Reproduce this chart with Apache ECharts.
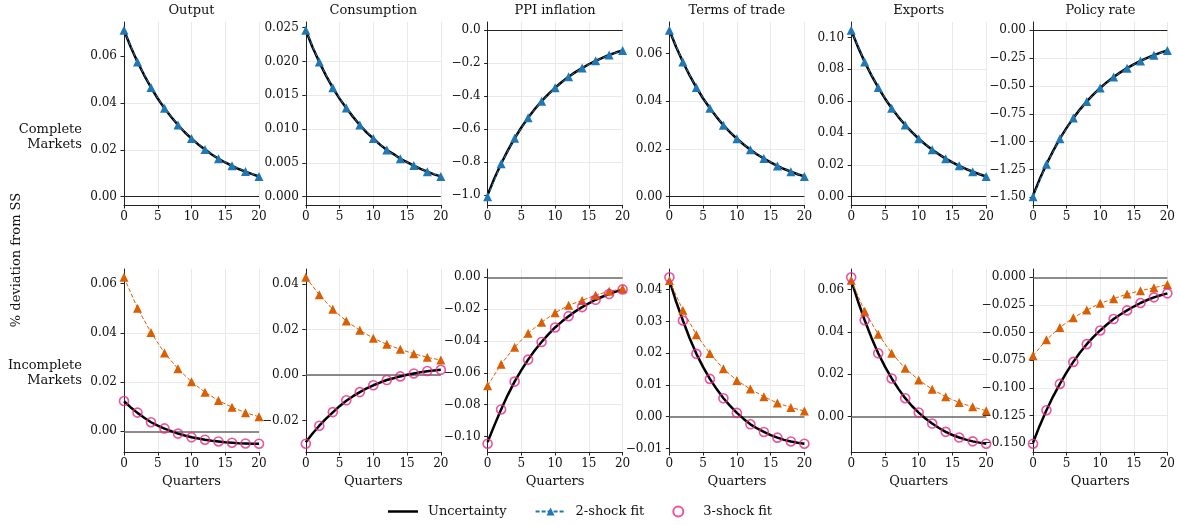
<!DOCTYPE html>
<html>
<head>
<meta charset="utf-8">
<script src="https://cdn.jsdelivr.net/npm/echarts@6/dist/echarts.min.js"></script>
<style>
html,body{margin:0;padding:0;background:#fff;}
#chart{width:1178px;height:525px;}
</style>
</head>
<body>
<div id="chart"></div>
<script>
// ---------- data ----------
const quarters = [0,1,2,3,4,5,6,7,8,9,10,11,12,13,14,15,16,17,18,19,20];
const markerQuarters = [0,2,4,6,8,10,12,14,16,18,20];
const titles = ['Output','Consumption','PPI inflation','Terms of trade','Exports','Policy rate'];
const rowLabels = ['Complete\nMarkets','Incomplete\nMarkets'];
const yAxisTitle = '% deviation from SS';
const xAxisTitle = 'Quarters';
const seriesNames = ['Uncertainty','2-shock fit','3-shock fit'];

// Complete markets (top row): uncertainty path and 2-shock fit
const cmOutputU = [0.0710,0.0639,0.0575,0.0518,0.0466,0.0419,0.0377,0.0340,0.0306,0.0275,0.0248,0.0223,0.0201,0.0180,0.0162,0.0146,0.0132,0.0118,0.0107,0.0096,0.0086];
const cmOutput2 = [0.0710,0.0575,0.0466,0.0377,0.0306,0.0248,0.0201,0.0162,0.0132,0.0107,0.0086];
const cmConsU = [0.0246,0.0221,0.0199,0.0179,0.0161,0.0145,0.0131,0.0118,0.0106,0.0095,0.0086,0.0077,0.0069,0.0063,0.0056,0.0051,0.0046,0.0041,0.0037,0.0033,0.0030];
const cmCons2 = [0.0246,0.0199,0.0161,0.0131,0.0106,0.0086,0.0069,0.0056,0.0046,0.0037,0.0030];
const cmPPIU = [-1.000,-0.900,-0.810,-0.729,-0.656,-0.590,-0.531,-0.478,-0.430,-0.387,-0.349,-0.314,-0.282,-0.254,-0.229,-0.206,-0.185,-0.167,-0.150,-0.135,-0.122];
const cmPPI2 = [-1.010,-0.810,-0.656,-0.531,-0.430,-0.349,-0.282,-0.229,-0.185,-0.150,-0.122];
const cmToTU = [0.0698,0.0628,0.0565,0.0509,0.0458,0.0412,0.0371,0.0334,0.0300,0.0270,0.0243,0.0219,0.0197,0.0177,0.0160,0.0144,0.0129,0.0116,0.0105,0.0094,0.0085];
const cmToT2 = [0.0698,0.0565,0.0458,0.0371,0.0300,0.0243,0.0197,0.0160,0.0129,0.0105,0.0085];
const cmExpU = [0.1045,0.0941,0.0846,0.0762,0.0686,0.0617,0.0555,0.0500,0.0450,0.0405,0.0364,0.0328,0.0295,0.0266,0.0239,0.0215,0.0194,0.0174,0.0157,0.0141,0.0127];
const cmExp2 = [0.1045,0.0846,0.0686,0.0555,0.0450,0.0364,0.0295,0.0239,0.0194,0.0157,0.0127];
const cmRateU = [-1.485,-1.337,-1.203,-1.083,-0.974,-0.877,-0.789,-0.710,-0.639,-0.575,-0.518,-0.466,-0.419,-0.378,-0.340,-0.306,-0.275,-0.248,-0.223,-0.201,-0.181];
const cmRate2 = [-1.495,-1.203,-0.974,-0.789,-0.639,-0.518,-0.419,-0.340,-0.275,-0.223,-0.181];

// Incomplete markets (bottom row): uncertainty, 2-shock fit, 3-shock fit
const imOutputU = [0.0122,0.0097,0.0075,0.0055,0.0037,0.0023,0.0011,0.0001,-0.0009,-0.0017,-0.0024,-0.0029,-0.0034,-0.0038,-0.0041,-0.0044,-0.0046,-0.0048,-0.0049,-0.0050,-0.0050];
const imOutput2 = [0.0625,0.0500,0.0401,0.0318,0.0254,0.0201,0.0159,0.0125,0.0098,0.0076,0.0059];
const imOutput3 = [0.0123,0.0076,0.0037,0.0012,-0.0009,-0.0024,-0.0034,-0.0041,-0.0046,-0.0049,-0.0050];
const imConsU = [-0.0296,-0.0257,-0.0223,-0.0192,-0.0164,-0.0137,-0.0113,-0.0093,-0.0075,-0.0059,-0.0045,-0.0033,-0.0022,-0.0014,-0.0006,0.0001,0.0007,0.0012,0.0017,0.0020,0.0023];
const imCons2 = [0.0430,0.0353,0.0289,0.0238,0.0197,0.0162,0.0135,0.0113,0.0094,0.0078,0.0066];
const imCons3 = [-0.0302,-0.0223,-0.0163,-0.0111,-0.0075,-0.0045,-0.0022,-0.0006,0.0007,0.0018,0.0023];
const imPPIU = [-0.1035,-0.0930,-0.0830,-0.0738,-0.0655,-0.0583,-0.0517,-0.0458,-0.0406,-0.0358,-0.0315,-0.0278,-0.0244,-0.0214,-0.0187,-0.0163,-0.0141,-0.0122,-0.0105,-0.0090,-0.0076];
const imPPI2 = [-0.0681,-0.0546,-0.0439,-0.0351,-0.0282,-0.0223,-0.0176,-0.0145,-0.0112,-0.0088,-0.0072];
const imPPI3 = [-0.1045,-0.0830,-0.0655,-0.0517,-0.0406,-0.0315,-0.0244,-0.0187,-0.0141,-0.0105,-0.0076];
const imToTU = [0.0430,0.0362,0.0303,0.0247,0.0198,0.0156,0.0119,0.0087,0.0058,0.0034,0.0012,-0.0007,-0.0024,-0.0037,-0.0048,-0.0058,-0.0066,-0.0073,-0.0078,-0.0082,-0.0085];
const imToT2 = [0.0429,0.0335,0.0258,0.0199,0.0151,0.0114,0.0087,0.0063,0.0043,0.0029,0.0018];
const imToT3 = [0.0439,0.0303,0.0198,0.0119,0.0058,0.0012,-0.0024,-0.0048,-0.0066,-0.0078,-0.0085];
const imExpU = [0.0644,0.0545,0.0455,0.0373,0.0299,0.0236,0.0180,0.0131,0.0087,0.0050,0.0019,-0.0009,-0.0033,-0.0054,-0.0072,-0.0087,-0.0099,-0.0109,-0.0117,-0.0123,-0.0128];
const imExp2 = [0.0644,0.0498,0.0389,0.0299,0.0228,0.0173,0.0129,0.0094,0.0066,0.0046,0.0027];
const imExp3 = [0.0658,0.0455,0.0299,0.0180,0.0087,0.0019,-0.0033,-0.0072,-0.0099,-0.0117,-0.0128];
const imRateU = [-0.1495,-0.1340,-0.1201,-0.1075,-0.0963,-0.0859,-0.0764,-0.0680,-0.0604,-0.0538,-0.0480,-0.0426,-0.0377,-0.0336,-0.0299,-0.0264,-0.0232,-0.0205,-0.0181,-0.0162,-0.0145];
const imRate2 = [-0.0709,-0.0564,-0.0453,-0.0365,-0.0296,-0.0235,-0.0193,-0.0151,-0.0121,-0.0094,-0.0066];
const imRate3 = [-0.1503,-0.1201,-0.0963,-0.0764,-0.0604,-0.0480,-0.0377,-0.0299,-0.0232,-0.0181,-0.0145];

// tick labels
const xTicks = [0,5,10,15,20];
const cmTicks = [
  [0,0.02,0.04,0.06],
  [0,0.005,0.010,0.015,0.020,0.025],
  [-1.0,-0.8,-0.6,-0.4,-0.2,0.0],
  [0,0.02,0.04,0.06],
  [0,0.02,0.04,0.06,0.08,0.10],
  [-1.50,-1.25,-1.00,-0.75,-0.50,-0.25,0.00]
];
const cmDecimals = [2,3,1,2,2,2];
const imTicks = [
  [0,0.02,0.04,0.06],
  [-0.02,0,0.02,0.04],
  [-0.10,-0.08,-0.06,-0.04,-0.02,0.00],
  [-0.01,0,0.01,0.02,0.03,0.04],
  [0,0.02,0.04,0.06],
  [-0.150,-0.125,-0.100,-0.075,-0.050,-0.025,0.000]
];
const imDecimals = [2,2,2,2,2,3];

// ---------- layout / style ----------
const FONT = 'DejaVu Serif';
const C_BLACK = '#000000';
const C_BLUE = '#1f77b4';
const C_ORANGE = '#d95f02';
const C_PINK = '#e7298a';
const GRID_COLOR = '#e9e9e9';
const SPINE = '#222222';
const TICK_FS = 12;

const panelLeft0 = 124, panelStep = 181.8, panelW = 135, panelH = 183;
const rowTop = [22, 269];

const cmU = [cmOutputU, cmConsU, cmPPIU, cmToTU, cmExpU, cmRateU];
const cm2 = [cmOutput2, cmCons2, cmPPI2, cmToT2, cmExp2, cmRate2];
const imU = [imOutputU, imConsU, imPPIU, imToTU, imExpU, imRateU];
const im2 = [imOutput2, imCons2, imPPI2, imToT2, imExp2, imRate2];
const im3 = [imOutput3, imCons3, imPPI3, imToT3, imExp3, imRate3];

function fmt(dec) {
  return function (v) {
    const s = Math.abs(v) < 1e-12 ? (0).toFixed(dec) : v.toFixed(dec);
    return s.replace('-', '\u2212');
  };
}
function pairs(xs, ys) { return xs.map((x, i) => [x, ys[i]]); }

const grids = [], xAxes = [], yAxes = [], series = [];
const graphics = [];

for (let row = 0; row < 2; row++) {
  for (let c = 0; c < 6; c++) {
    const idx = row * 6 + c;
    const left = panelLeft0 + panelStep * c;
    grids.push({ left: left, top: rowTop[row], width: panelW, height: panelH, containLabel: false });

    const u = row === 0 ? cmU[c] : imU[c];
    const two = row === 0 ? cm2[c] : im2[c];
    const three = row === 0 ? null : im3[c];
    const all = [0].concat(u, two, three || []);
    const lo = Math.min.apply(null, all), hi = Math.max.apply(null, all);
    const pad = (hi - lo) * 0.05;
    const ticks = row === 0 ? cmTicks[c] : imTicks[c];
    const dec = row === 0 ? cmDecimals[c] : imDecimals[c];

    xAxes.push({
      gridIndex: idx, type: 'value', min: 0, max: 20, interval: 5,
      axisLine: { show: true, onZero: false, lineStyle: { color: SPINE, width: 1 } },
      axisTick: { show: true, length: 3.5, lineStyle: { color: SPINE, width: 1 } },
      axisLabel: { margin: 6, fontSize: TICK_FS, fontFamily: FONT, color: '#111' },
      splitLine: { show: true, lineStyle: { color: GRID_COLOR, width: 1 } },
      name: row === 1 ? xAxisTitle : '',
      nameLocation: 'middle', nameGap: 23,
      nameTextStyle: { fontSize: 13, fontFamily: FONT, color: '#111' }
    });
    yAxes.push({
      gridIndex: idx, type: 'value', min: lo - pad, max: hi + pad,
      axisLine: { show: true, onZero: false, lineStyle: { color: SPINE, width: 1 } },
      axisTick: { show: true, length: 3.5, customValues: ticks, lineStyle: { color: SPINE, width: 1 } },
      axisLabel: { customValues: ticks, margin: 7, fontSize: TICK_FS, fontFamily: FONT, color: '#111', formatter: fmt(dec) },
      splitLine: { show: true, showMinLine: false, showMaxLine: false, lineStyle: { color: GRID_COLOR, width: 1 } }
    });

    series.push({
      name: seriesNames[0], type: 'line', xAxisIndex: idx, yAxisIndex: idx,
      data: pairs(quarters, u), symbol: 'none', showSymbol: false, z: 3,
      lineStyle: { color: C_BLACK, width: 2.5 }, itemStyle: { color: C_BLACK },
      markLine: {
        silent: true, symbol: ['none', 'none'], label: { show: false }, z: 1,
        lineStyle: { color: row === 0 ? '#222' : '#666', width: row === 0 ? 1 : 1.5, type: 'solid' },
        emphasis: { disabled: true },
        data: [{ yAxis: 0 }]
      }
    });
    const col2 = row === 0 ? C_BLUE : C_ORANGE;
    series.push({
      name: seriesNames[1], type: 'line', xAxisIndex: idx, yAxisIndex: idx,
      data: pairs(markerQuarters, two), symbol: 'triangle', symbolSize: 9, z: 4,
      lineStyle: { color: col2, width: 1, type: [4, 2] }, itemStyle: { color: col2 }
    });
    if (three) {
      series.push({
        name: seriesNames[2], type: 'scatter', xAxisIndex: idx, yAxisIndex: idx,
        data: pairs(markerQuarters, three), symbol: 'circle', symbolSize: 9, z: 5,
        itemStyle: { color: 'rgba(0,0,0,0)', borderColor: C_PINK, borderWidth: 1.6 }
      });
    }

    if (row === 0) {
      graphics.push({ type: 'text', x: left + panelW / 2, y: 11,
        style: { text: titles[c], fontSize: 13, fontFamily: FONT, fill: '#111', align: 'center', verticalAlign: 'middle' } });
    }
  }
}

graphics.push({ type: 'text', x: 82, y: 137.5,
  style: { text: rowLabels[0], fontSize: 13, fontFamily: FONT, fill: '#111', align: 'right', verticalAlign: 'middle', lineHeight: 15 } });
graphics.push({ type: 'text', x: 82, y: 373.5,
  style: { text: rowLabels[1], fontSize: 13, fontFamily: FONT, fill: '#111', align: 'right', verticalAlign: 'middle', lineHeight: 15 } });
graphics.push({ type: 'text', x: 17, y: 260, rotation: Math.PI / 2,
  style: { text: yAxisTitle, fontSize: 13, fontFamily: FONT, fill: '#111', align: 'center', verticalAlign: 'middle' } });

const chart = echarts.init(document.getElementById('chart'), null, { renderer: 'canvas' });
chart.setOption({
  animation: false,
  backgroundColor: '#ffffff',
  grid: grids,
  xAxis: xAxes,
  yAxis: yAxes,
  series: series,
  graphic: graphics,
  legend: {
    data: [
      { name: seriesNames[0], icon: 'path://M0,0 L30,0 L30,2.5 L0,2.5 Z' },
      { name: seriesNames[1] },
      { name: seriesNames[2] }
    ],
    top: 500, left: 383,
    itemWidth: 30, itemHeight: 10, itemGap: 28,
    textStyle: { fontSize: 13, fontFamily: FONT, color: '#111', padding: [0, 0, 0, 5] }
  }
});
</script>
</body>
</html>
